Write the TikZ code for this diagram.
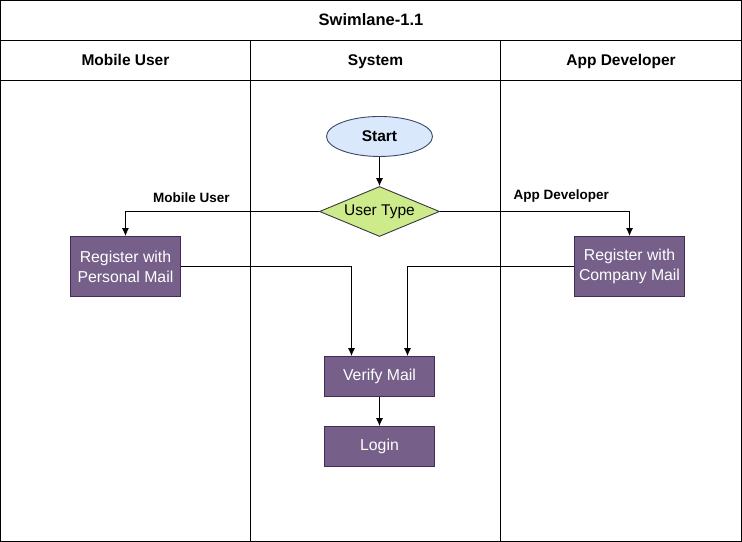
\documentclass[tikz,border=0pt]{standalone}
\usepackage{fontspec}
\setmainfont{Liberation Sans}
\usetikzlibrary{arrows.meta,shapes.geometric}
\definecolor{startfill}{HTML}{DAE8FC}
\definecolor{startline}{HTML}{3B4A66}
\definecolor{typefill}{HTML}{CDEB8B}
\definecolor{typeline}{HTML}{36393D}
\definecolor{boxfill}{HTML}{76608A}
\definecolor{boxline}{HTML}{432D57}
\tikzset{
    lane/.style={font=\fontsize{15.5}{18}\selectfont\bfseries, text height=11pt, text depth=0pt},
    proc/.style={draw=boxline, fill=boxfill, text=white, minimum width=110pt, minimum height=60pt,
        align=center, font=\fontsize{15.8}{20}\selectfont, inner sep=0pt},
    flow/.style={-{Latex[length=8pt,width=7pt]}, line width=0.9pt},
    choice/.style={font=\fontsize{13.5}{16}\selectfont\bfseries}
}
\begin{document}
\begin{tikzpicture}[x=1pt, y=-1pt, line width=0.9pt]
    % lanes
    \draw (0,0) rectangle (741,541);
    \draw (0,40) -- (741,40);
    \draw (0,80) -- (741,80);
    \draw (250,40) -- (250,541);
    \draw (500,40) -- (500,541);
    \node[lane, font=\fontsize{16.5}{18}\selectfont\bfseries] (title) at (370.5,20) {Swimlane-1.1};
    \node[lane] (mobilelane) at (125,60) {Mobile User};
    \node[lane] (systemlane) at (375,60) {System};
    \node[lane] (devlane) at (620.5,60) {App Developer};

    % steps
    \node[ellipse, draw=startline, fill=startfill, minimum width=106pt, minimum height=40pt, inner sep=0pt,
        text height=11pt, text depth=0pt, font=\fontsize{15.5}{18}\selectfont\bfseries] (start) at (379,136) {Start};
    \node[diamond, draw=typeline, fill=typefill, minimum width=120pt, minimum height=50pt, inner sep=0pt,
        aspect=2.4, font=\fontsize{15.5}{18}\selectfont] (usertype) at (379,211) {User Type};
    \node[proc] (personal) at (125,266) {Register with\\Personal Mail};
    \node[proc] (company) at (629,266) {Register with\\Company Mail};
    \node[proc, minimum height=40pt, text height=11pt, text depth=3pt] (verify) at (379,376) {Verify Mail};
    \node[proc, minimum height=40pt, text height=11pt, text depth=3pt] (login) at (379,446) {Login};

    % connectors
    \draw[flow] (start) -- (usertype);
    \draw[flow] (usertype.west) -| node[choice, pos=0.33, above, yshift=5pt] {Mobile User} (personal.north);
    \draw[flow] (usertype.east) -| node[choice, pos=0.32, above, yshift=5pt] {App Developer} (company.north);
    \draw[flow] (personal.east) -| ([xshift=-28pt]verify.north);
    \draw[flow] (company.west) -| ([xshift=28pt]verify.north);
    \draw[flow] (verify) -- (login);
\end{tikzpicture}
\end{document}
